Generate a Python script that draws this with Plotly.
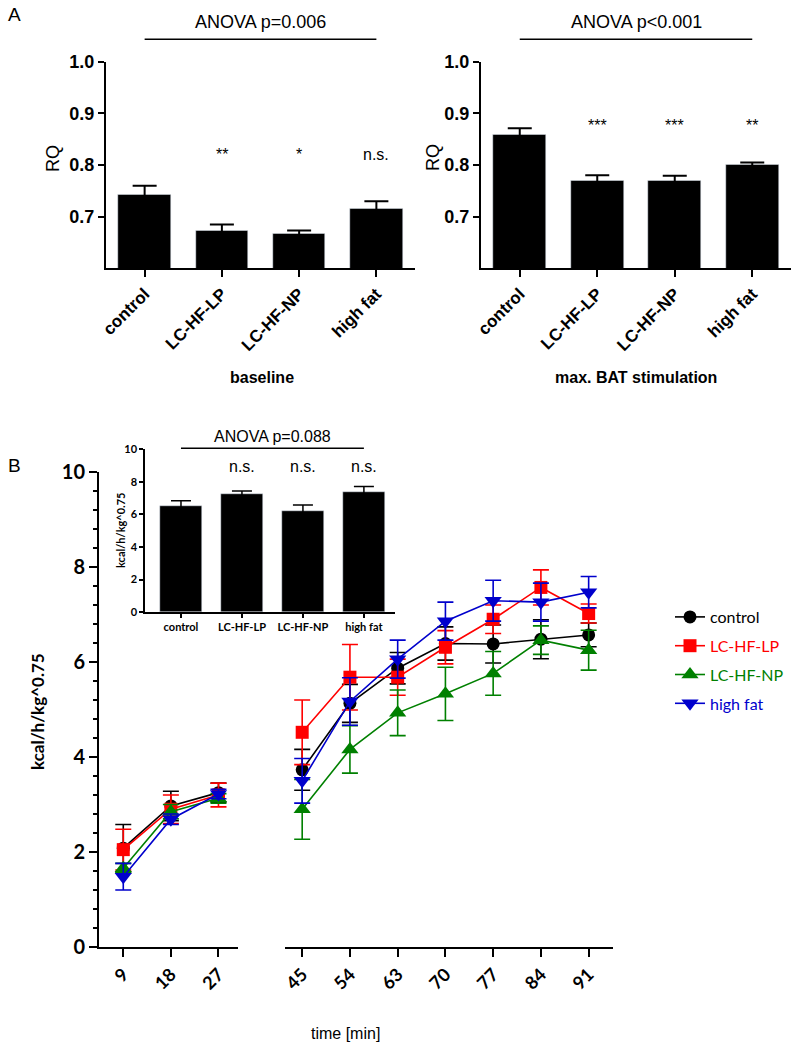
import plotly.graph_objects as go

W, H = 797, 1054

# ---- data ----
groups = ["control", "LC-HF-LP", "LC-HF-NP", "high fat"]

rq_base = [0.742, 0.672, 0.667, 0.716]
rq_base_err = [0.018, 0.013, 0.006, 0.014]
rq_base_sig = ["", "**", "*", "n.s."]

rq_bat = [0.858, 0.770, 0.770, 0.801]
rq_bat_err = [0.013, 0.010, 0.009, 0.004]
rq_bat_sig = ["", "***", "***", "**"]

ee_mean = [6.53, 7.22, 6.22, 7.37]
ee_err = [0.30, 0.21, 0.35, 0.34]
ee_sig = ["", "n.s.", "n.s.", "n.s."]

t_base = ["9", "18", "27"]
t_stim = ["45", "54", "63", "70", "77", "84", "91"]

ctrl_base = [2.08, 2.97, 3.25]
ctrl_base_err = [0.50, 0.31, 0.20]
ctrl_stim = [3.73, 5.13, 5.87, 6.39, 6.38, 6.48, 6.57]
ctrl_stim_err = [0.43, 0.40, 0.33, 0.35, 0.40, 0.41, 0.25]

lp_base = [2.05, 2.90, 3.20]
lp_base_err = [0.43, 0.30, 0.25]
lp_stim = [4.52, 5.68, 5.68, 6.31, 6.90, 7.57, 7.02]
lp_stim_err = [0.68, 0.69, 0.38, 0.35, 0.30, 0.37, 0.20]

np_base = [1.66, 2.85, 3.13]
np_base_err = [0.10, 0.15, 0.10]
np_stim = [2.90, 4.16, 4.93, 5.33, 5.76, 6.46, 6.25]
np_stim_err = [0.63, 0.50, 0.48, 0.56, 0.46, 0.30, 0.42]

hf_base = [1.48, 2.69, 3.22]
hf_base_err = [0.28, 0.11, 0.10]
hf_stim = [3.50, 5.17, 6.06, 6.86, 7.29, 7.26, 7.47]
hf_stim_err = [0.47, 0.50, 0.40, 0.40, 0.43, 0.40, 0.33]


def px(x):
    return x / W


def py(y):
    return 1 - y / H


ARIAL = "Liberation Sans, Arial, sans-serif"
CALIBRI = "Lato, Open Sans, sans-serif"

fig = go.Figure()

# ---- panel A bars ----
for ax, vals, errs in [("", rq_base, rq_base_err), ("2", rq_bat, rq_bat_err)]:
    fig.add_trace(go.Bar(x=groups, y=vals, width=0.68, marker_color="black",
                         error_y=dict(type="data", array=errs, color="black",
                                      thickness=2, width=12),
                         xaxis="x" + ax, yaxis="y" + ax, showlegend=False))

# ---- inset bars ----
fig.add_trace(go.Bar(x=groups, y=ee_mean, width=0.69, marker_color="black",
                     error_y=dict(type="data", array=ee_err, color="black",
                                  thickness=1.5, width=10),
                     xaxis="x3", yaxis="y3", showlegend=False))

# ---- panel B time course ----
series = [
    ("control", "black", "circle", 13, ctrl_base, ctrl_base_err, ctrl_stim, ctrl_stim_err),
    ("LC-HF-LP", "#ff0000", "square", 13, lp_base, lp_base_err, lp_stim, lp_stim_err),
    ("LC-HF-NP", "#008000", "triangle-up", 15, np_base, np_base_err, np_stim, np_stim_err),
    ("high fat", "#0000cc", "triangle-down", 15, hf_base, hf_base_err, hf_stim, hf_stim_err),
]
for name, col, sym, size, yb, eb, ys, es in series:
    for xa, xs, yv, ev, leg in [("x4", t_base, yb, eb, False), ("x5", t_stim, ys, es, True)]:
        fig.add_trace(go.Scatter(
            x=xs, y=yv, mode="lines+markers", xaxis=xa, yaxis="y4",
            line=dict(color=col, width=1.6),
            marker=dict(symbol=sym, size=size, color=col),
            error_y=dict(type="data", array=ev, color=col, thickness=1.6, width=8),
            name="<span style='color:%s'>%s</span>" % (col, name),
            legendgroup=name, showlegend=leg))

axis_common = dict(showline=True, linecolor="black", linewidth=2, ticks="outside",
                   tickcolor="black", tickwidth=2, showgrid=False, zeroline=False,
                   automargin=False)
thin = {**axis_common, "linewidth": 1.5, "tickwidth": 1.5}

fA = dict(family=ARIAL, size=18, color="black", weight="bold")
fAx = dict(family=ARIAL, size=17, color="black", weight="bold")
fB = dict(family=CALIBRI, size=18, color="black", weight="bold")
fI = dict(family=CALIBRI, size=11, color="black", weight="bold")

layout = dict(
    width=W, height=H, margin=dict(l=0, r=0, t=0, b=0, autoexpand=False),
    plot_bgcolor="rgba(0,0,0,0)", paper_bgcolor="white", bargap=0,
    xaxis=dict(domain=[px(106), px(415)], anchor="y", type="category", range=[-0.5, 3.5],
               tickangle=-45, ticklen=7, tickfont=fAx, **axis_common),
    yaxis=dict(domain=[py(268.3), py(61.7)], anchor="x", range=[0.6, 1.0],
               tickvals=[0.7, 0.8, 0.9, 1.0], tickformat=".1f", ticklen=6,
               tickfont=fA, **axis_common),
    xaxis2=dict(domain=[px(481), px(791)], anchor="y2", type="category", range=[-0.5, 3.5],
                tickangle=-45, ticklen=7, tickfont=fAx, **axis_common),
    yaxis2=dict(domain=[py(268.3), py(61.7)], anchor="x2", range=[0.6, 1.0],
                tickvals=[0.7, 0.8, 0.9, 1.0], tickformat=".1f", ticklen=6,
                tickfont=fA, **axis_common),
    xaxis3=dict(domain=[px(145), px(395)], anchor="y3", type="category", range=[-0.59, 3.51],
                ticklen=4, tickangle=0, tickfont=fI, **thin),
    yaxis3=dict(domain=[py(612.3), py(449)], anchor="x3", range=[0, 10], dtick=2, ticklen=4,
                tickfont=fI, **thin),
    xaxis4=dict(domain=[px(99), px(238)], anchor="y4", type="category", range=[-0.51, 2.41],
                tickangle=-45, ticklen=8, tickfont=fB, **axis_common),
    xaxis5=dict(domain=[px(285), px(613)], anchor="y4", type="category", range=[-0.36, 6.51],
                tickangle=-45, ticklen=8, tickfont=fB, **axis_common),
    yaxis4=dict(domain=[py(947), py(472)], anchor="x4", range=[0, 10], dtick=2, ticklen=8,
                minor=dict(dtick=0.4, ticklen=4, ticks="outside", tickcolor="black", tickwidth=1.5),
                tickfont=dict(family=CALIBRI, size=20, color="black", weight="bold"),
                **axis_common),
    legend=dict(x=px(670), y=py(600), xanchor="left", yanchor="top",
                font=dict(family=CALIBRI, size=16, color="black"),
                tracegroupgap=5, bgcolor="rgba(0,0,0,0)"),
)
fig.update_layout(**layout)

annotations = []
shapes = []

# significance labels
for ax, sig, yv in [("", rq_base_sig, 0.821), ("2", rq_bat_sig, 0.876), ("3", ee_sig, 8.9)]:
    for g, s in zip(groups, sig):
        if s:
            annotations.append(dict(x=g, y=yv, xref="x" + ax, yref="y" + ax, text=s,
                                    showarrow=False,
                                    font=dict(family=ARIAL, size=16, color="black")))

# ANOVA lines + labels
for ax, label, yline, ytext, fsize in [("", "ANOVA p=0.006", 39.3, 22, 18),
                                       ("2", "ANOVA p<0.001", 39.3, 22, 18),
                                       ("3", "ANOVA p=0.088", 448.3, 437, 16)]:
    shapes.append(dict(type="line", xref="x" + ax, yref="paper", x0=0, x1=3,
                       y0=py(yline), y1=py(yline), line=dict(color="black", width=1.5)))
    annotations.append(dict(x=1.5, y=py(ytext), xref="x" + ax, yref="paper", text=label,
                            showarrow=False, yanchor="middle",
                            font=dict(family=ARIAL, size=fsize, color="black")))

# text labels
texts = [
    ("A", 14, 14, 0, dict(family=ARIAL, size=19, color="black")),
    ("B", 14, 465, 0, dict(family=ARIAL, size=19, color="black")),
    ("RQ", 53, 158, -90, dict(family=ARIAL, size=18, color="black")),
    ("RQ", 433, 158, -90, dict(family=ARIAL, size=18, color="black")),
    ("<b>baseline</b>", 262, 377, 0, dict(family=ARIAL, size=16, color="black")),
    ("<b>max. BAT stimulation</b>", 636, 377, 0, dict(family=ARIAL, size=16, color="black")),
    ("<b>kcal/h/kg^0.75</b>", 120, 530, -90, dict(family=CALIBRI, size=11, color="black")),
    ("<b>kcal/h/kg^0.75</b>", 37, 712, -90, dict(family=CALIBRI, size=17, color="black")),
    ("time [min]", 345, 1033, 0, dict(family=ARIAL, size=16, color="black")),
]
for t, x, y, ang, f in texts:
    annotations.append(dict(x=px(x), y=py(y), xref="paper", yref="paper", text=t,
                            showarrow=False, textangle=ang, xanchor="center",
                            yanchor="middle", font=f))

fig.update_layout(annotations=annotations, shapes=shapes)

fig.write_html("out.html", config={"displayModeBar": False},
               post_script="document.body.style.margin='0';document.body.style.overflow='hidden';")
